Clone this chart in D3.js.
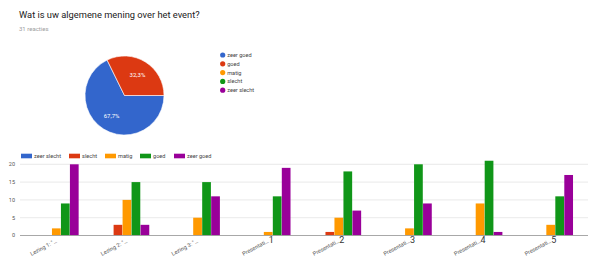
<!DOCTYPE html>
<html>
<head>
<meta charset="utf-8">
<script src="https://cdn.jsdelivr.net/npm/d3@7"></script>
<style>
  html, body { margin: 0; padding: 0; background: #fff; }
  svg { display: block; font-family: Roboto, Arial, sans-serif; }
</style>
</head>
<body>
<svg id="chart" width="600" height="261"></svg>
<script>
// Overall opinion (pie)
const pieLabels = ["zeer goed", "goed", "matig", "slecht", "zeer slecht"];
const pieValues = [21, 10, 0, 0, 0];
const pieColors = ["#3366cc", "#dc3912", "#ff9900", "#109618", "#990099"];

// Ratings per session (grouped bars)
const sessions = ["Lezing 1: \"…", "Lezing 2: \"…", "Lezing 3: \"…", "Presentati…", "Presentati…", "Presentati…", "Presentati…", "Presentati…"];
const sessionNumbers = ["", "", "", "1", "2", "3", "4", "5"];
const seriesNames = ["zeer slecht", "slecht", "matig", "goed", "zeer goed"];
const seriesColors = ["#3366cc", "#dc3912", "#ff9900", "#109618", "#990099"];
const zeerSlecht = [0, 0, 0, 0, 0, 0, 0, 0];
const slecht     = [0, 3, 0, 0, 1, 0, 0, 0];
const matig      = [2, 10, 5, 1, 5, 2, 9, 3];
const goed       = [9, 15, 15, 11, 18, 20, 21, 11];
const zeerGoed   = [20, 3, 11, 19, 7, 9, 1, 17];
const yTicks = [0, 5, 10, 15, 20];

const svg = d3.select("#chart");

// Header
svg.append("text").attr("x", 19).attr("y", 18)
  .attr("font-size", 9.3).attr("fill", "#212121")
  .text("Wat is uw algemene mening over het event?");
svg.append("text").attr("x", 19).attr("y", 31)
  .attr("font-size", 6).attr("fill", "#9e9e9e")
  .text("31 reacties");

// Pie chart (starts at 3 o'clock, clockwise)
const total = d3.sum(pieValues);
const pie = d3.pie().sort(null)
  .startAngle(Math.PI / 2).endAngle(Math.PI / 2 + 2 * Math.PI);
const arcs = pie(pieValues);
const R = 39.5;
const arc = d3.arc().innerRadius(0).outerRadius(R);
const pieG = svg.append("g").attr("transform", "translate(124.5,95.5)");
pieG.selectAll("path").data(arcs.filter(d => d.value > 0)).join("path")
  .attr("d", arc)
  .attr("fill", d => pieColors[d.index])
  .attr("stroke", "#fff").attr("stroke-width", 0.6);
const labelArc = d3.arc().innerRadius(R * 0.62).outerRadius(R * 0.62);
pieG.selectAll("text").data(arcs.filter(d => d.value > 0)).join("text")
  .attr("transform", d => `translate(${labelArc.centroid(d)})`)
  .attr("text-anchor", "middle").attr("dy", "0.35em")
  .attr("font-size", 6).attr("fill", "#fff")
  .text(d => (d.value / total * 100).toFixed(1).replace(".", ",") + "%");

// Pie legend
const pieLeg = svg.append("g").attr("transform", "translate(222.7,55)");
pieLabels.forEach((name, i) => {
  const g = pieLeg.append("g").attr("transform", `translate(0,${i * 8.8})`);
  g.append("circle").attr("r", 2.6).attr("fill", pieColors[i]);
  g.append("text").attr("x", 4.5).attr("dy", "0.35em")
    .attr("font-size", 5.6).attr("fill", "#444").text(name);
});

// Bar chart
const series = [zeerSlecht, slecht, matig, goed, zeerGoed];
const x0 = d3.scaleBand().domain(d3.range(sessions.length))
  .range([21, 586]).paddingInner(0.36).paddingOuter(0.18);
const x1 = d3.scaleBand().domain(d3.range(seriesNames.length))
  .range([0, x0.bandwidth()]).padding(0.03);
const y = d3.scaleLinear().domain([0, 20]).range([235.5, 164.3]);

const grid = svg.append("g");
grid.selectAll("line").data(yTicks.filter(t => t > 0)).join("line")
  .attr("x1", 20).attr("x2", 588)
  .attr("y1", d => y(d)).attr("y2", d => y(d))
  .attr("stroke", "#e3e3e3").attr("stroke-width", 0.8);
svg.append("g").selectAll("text").data(yTicks).join("text")
  .attr("x", 15).attr("y", d => y(d)).attr("dy", "0.35em")
  .attr("text-anchor", "end").attr("font-size", 5.5).attr("fill", "#555")
  .text(d => d);

const groups = svg.append("g").selectAll("g").data(sessions).join("g")
  .attr("transform", (d, i) => `translate(${x0(i)},0)`);
groups.selectAll("rect")
  .data((d, i) => series.map((s, k) => ({ k, v: s[i] })).filter(e => e.v > 0))
  .join("rect")
  .attr("x", e => x1(e.k)).attr("width", x1.bandwidth())
  .attr("y", e => y(e.v)).attr("height", e => y(0) - y(e.v))
  .attr("fill", e => seriesColors[e.k]);

svg.append("line").attr("x1", 20).attr("x2", 588)
  .attr("y1", y(0)).attr("y2", y(0))
  .attr("stroke", "#9e9e9e").attr("stroke-width", 0.9);

// Category labels (slanted)
const lab = svg.append("g").selectAll("g").data(sessions).join("g")
  .attr("transform", (d, i) => `translate(${x0(i) + x0.bandwidth() / 2},${y(0) + 5})`);
lab.append("text")
  .attr("transform", "rotate(-28)")
  .attr("text-anchor", "end").attr("dy", "0.35em")
  .attr("font-size", 5.6).attr("fill", "#555")
  .text(d => d);
lab.append("text")
  .attr("x", 0.5).attr("y", 2)
  .attr("font-size", 9).attr("fill", "#333")
  .text((d, i) => sessionNumbers[i]);

// Bar legend
const barLeg = svg.append("g").attr("transform", "translate(21,156)");
const legX = [0, 48, 84, 119, 153];
seriesNames.forEach((name, i) => {
  const g = barLeg.append("g").attr("transform", `translate(${legX[i]},0)`);
  g.append("rect").attr("x", 0).attr("y", -2.3).attr("width", 11).attr("height", 4.6)
    .attr("fill", seriesColors[i]);
  g.append("text").attr("x", 13).attr("dy", "0.35em")
    .attr("font-size", 5.6).attr("fill", "#444").text(name);
});
</script>
</body>
</html>
